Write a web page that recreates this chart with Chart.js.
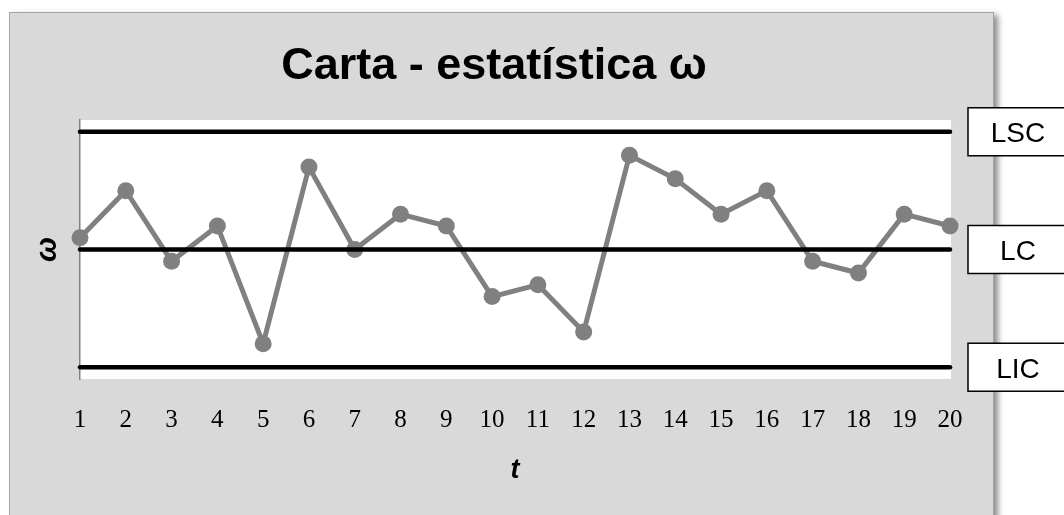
<!DOCTYPE html>
<html>
<head>
<meta charset="utf-8">
<script src="https://cdn.jsdelivr.net/npm/chart.js@4.4.0/dist/chart.umd.min.js"></script>
<style>
  html, body { margin: 0; padding: 0; background: #ffffff; }
  #carta { display: block; }
</style>
</head>
<body>
<canvas id="carta" width="1064" height="515"></canvas>
<script>
/**
 * Data
 */
const tLabels = [1, 2, 3, 4, 5, 6, 7, 8, 9, 10, 11, 12, 13, 14, 15, 16, 17, 18, 19, 20];
const omegaValues = [0.3, 1.5, -0.3, 0.6, -2.4, 2.1, 0, 0.9, 0.6, -1.2, -0.9, -2.1, 2.4, 1.8, 0.9, 1.5, -0.3, -0.6, 0.9, 0.6];
const limitNames = ['LSC', 'LC', 'LIC'];
const limitValues = [3, 0, -3];

const sansFont = "'Liberation Sans', Arial, Helvetica, sans-serif";
const serifFont = "'Liberation Serif', 'Times New Roman', serif";

Chart.defaults.font.family = sansFont;
Chart.defaults.color = '#000000';

//grey panel behind the chart and the white plot area
const panelPlugin = {
    id: 'panel',
    beforeDraw: (chart) => {
        const ctx = chart.ctx;
        const area = chart.chartArea;
        ctx.save();
        ctx.shadowColor = 'rgba(0, 0, 0, 0.45)';
        ctx.shadowBlur = 6;
        ctx.shadowOffsetX = 5;
        ctx.shadowOffsetY = 3;
        ctx.fillStyle = '#d9d9d9';
        ctx.fillRect(9, 12, 984, 520);
        ctx.restore();
        ctx.save();
        ctx.strokeStyle = '#a6a6a6';
        ctx.lineWidth = 1;
        ctx.strokeRect(9.5, 12.5, 984, 520);
        ctx.fillStyle = '#ffffff';
        ctx.fillRect(area.left, area.top, area.right - area.left + 1, area.bottom - area.top);
        ctx.restore();
    }
};

//boxes with the names of the control limits
const limitBoxPlugin = {
    id: 'limitBoxes',
    afterDraw: (chart) => {
        const ctx = chart.ctx;
        const yScale = chart.scales.y;
        ctx.save();
        limitNames.forEach((name, i) => {
            const py = yScale.getPixelForValue(limitValues[i]);
            ctx.fillStyle = '#ffffff';
            ctx.fillRect(968, py - 24, 100, 48);
            ctx.strokeStyle = '#000000';
            ctx.lineWidth = 1.5;
            ctx.strokeRect(968, py - 24, 100, 48);
            ctx.fillStyle = '#000000';
            ctx.font = '28px ' + sansFont;
            ctx.textAlign = 'center';
            ctx.textBaseline = 'middle';
            ctx.fillText(name, 1018, py + 3);
        });
        ctx.restore();
    }
};

const omegaPoints = tLabels.map((t, i) => ({ x: t, y: omegaValues[i] }));

const limitDatasets = limitValues.map((v, i) => ({
    label: limitNames[i],
    data: [{ x: tLabels[0], y: v }, { x: tLabels[tLabels.length - 1], y: v }],
    borderColor: '#000000',
    borderWidth: 4.5,
    borderCapStyle: 'round',
    pointRadius: 0,
    clip: false,
    order: 1
}));

const cartaConfig = {
    type: 'line',
    data: {
        datasets: [
            {
                label: 'ω',
                data: omegaPoints,
                borderColor: '#808080',
                backgroundColor: '#808080',
                borderWidth: 5,
                pointRadius: 8.5,
                pointBorderWidth: 0,
                pointBackgroundColor: '#808080',
                clip: false,
                order: 2
            },
            ...limitDatasets
        ]
    },
    options: {
        responsive: false,
        animation: false,
        layout: {
            padding: { left: 38, right: 114, top: 12, bottom: 20 }
        },
        plugins: {
            legend: { display: false },
            tooltip: { enabled: false },
            title: {
                display: true,
                text: 'Carta - estatística ω',
                color: '#000000',
                font: { size: 45, weight: 'bold', lineHeight: 1.2 },
                padding: { top: 28, bottom: 26 }
            }
        },
        scales: {
            x: {
                type: 'linear',
                min: 1,
                max: 20,
                grid: { display: false, drawTicks: false },
                border: { display: false },
                ticks: {
                    stepSize: 1,
                    padding: 26,
                    color: '#000000',
                    font: { family: serifFont, size: 25 }
                },
                title: {
                    display: true,
                    text: 't',
                    color: '#000000',
                    font: { size: 27, weight: 'bold', style: 'italic', lineHeight: 1 },
                    padding: { top: 0, bottom: 11 }
                },
                afterFit: (scale) => { scale.height = 116; }
            },
            y: {
                min: -3.3,
                max: 3.3,
                grid: { display: false, drawTicks: false },
                border: { display: true, color: '#808080', width: 1.5 },
                ticks: { display: false },
                title: {
                    display: true,
                    text: 'ω',
                    color: '#000000',
                    font: { size: 30, weight: 'bold', style: 'italic', lineHeight: 1 },
                    padding: { top: -5, bottom: 0 }
                },
                afterFit: (scale) => { scale.width = 42; }
            }
        }
    },
    plugins: [panelPlugin, limitBoxPlugin]
};

const cartaChart = new Chart(
    document.getElementById('carta'),
    cartaConfig
);
</script>
</body>
</html>
